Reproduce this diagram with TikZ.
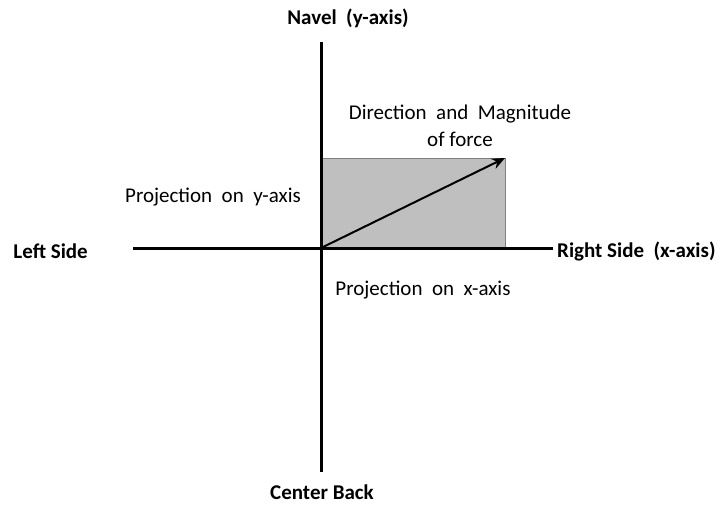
\documentclass[tikz,border=0pt]{standalone}
\usepackage{fontspec}
\setmainfont{Carlito}
\usetikzlibrary{arrows.meta}

\begin{document}
\begin{tikzpicture}[x=1pt, y=-1pt,
  axis/.style={line width=3pt},
  lbl/.style={font=\fontsize{21}{25}\selectfont\bfseries, inner sep=0pt},
  txt/.style={font=\fontsize{21}{27}\selectfont, inner sep=0pt, align=center}]
  \useasboundingbox (0,0) rectangle (720,506);
  \coordinate (O) at (321,248);
  \coordinate (T) at (321,42);
  \coordinate (Bt) at (321,472);
  \coordinate (L) at (133,248);
  \coordinate (R) at (553,248);
  % tip of the force vector
  \coordinate (F) at (505,158);

  \fill[gray!50, draw=gray, line width=0.6pt] (O) rectangle (F);
  \draw[axis] (T) -- (Bt);
  \draw[axis] (L) -- (R);
  \draw[line width=2pt, -{Stealth[length=13pt, width=11pt]}] (O) -- (F);

  \node[lbl] (navel) at (348,18) {Navel\ \ (y-axis)};
  \node[lbl] (back) at (322,492) {Center Back};
  \node[lbl, anchor=east] (left) at (88,251) {Left Side};
  \node[lbl, anchor=west] (right) at (557,251) {Right Side\ \ (x-axis)};
  \node[txt] (force) at (460,126) {Direction\ \ and\ \ Magnitude\\of force};
  \node[txt] (projy) at (213,197) {Projection\ \ on\ \ y-axis};
  \node[txt] (projx) at (423,290) {Projection\ \ on\ \ x-axis};
\end{tikzpicture}
\end{document}
